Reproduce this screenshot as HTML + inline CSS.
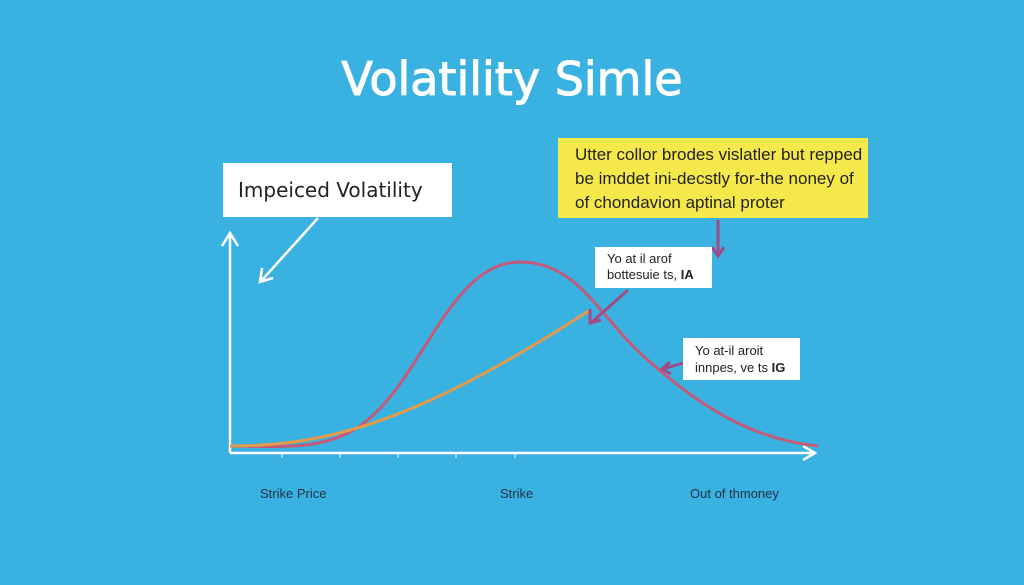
<!DOCTYPE html>
<html><head><style>
body{margin:0;width:1024px;height:585px;background:#39b1e1;overflow:hidden;position:relative;font-family:"Liberation Sans",sans-serif}
.t{position:absolute;left:0;width:1024px;top:52px;text-align:center;color:#fff;font-size:46px;font-family:"DejaVu Sans",sans-serif;-webkit-text-stroke:1px #fff}
.b{position:absolute;background:#fff;color:#222}
</style></head><body>
<div class="t">Volatility Simle</div>
<svg width="1024" height="585" style="position:absolute;left:0;top:0">
<g stroke="#fff" stroke-width="2.5" fill="none">
<line x1="230" y1="453" x2="230" y2="234"/><polyline points="222,246 230,233 238,246"/>
<line x1="230" y1="453" x2="814" y2="453"/><polyline points="803,446 815,453 803,460"/>
<line x1="318" y1="218" x2="262" y2="280"/><polyline points="262,268 260,282 273,278"/>
</g>
<g stroke="#fff" stroke-width="1"><line x1="282" y1="453" x2="282" y2="458"/><line x1="340" y1="453" x2="340" y2="458"/><line x1="398" y1="453" x2="398" y2="458"/><line x1="456" y1="453" x2="456" y2="458"/><line x1="515" y1="453" x2="515" y2="458"/></g>
<path d="M230,446 C290,447 320,448 350,432 C420,395 445,262 520,262 C580,262 600,320 650,362 C710,415 760,440 818,446" stroke="#c45a7a" stroke-width="3" fill="none"/>
<path d="M230,446 C330,446 420,420 590,310" stroke="#e39a4a" stroke-width="3" fill="none"/>
<g stroke="#a04a88" stroke-width="3" fill="none">
<line x1="718" y1="220" x2="718" y2="255"/><polyline points="712,247 718,256 724,247"/>
<line x1="628" y1="290" x2="592" y2="322"/><polyline points="590,309 590,323 601,320"/>
<line x1="683" y1="363" x2="663" y2="369"/><polyline points="670,362 662,369 671,374"/>
</g>
</svg>
<div class="b" style="left:223px;top:163px;width:229px;height:54px;font-size:20px;line-height:54px;padding-left:15px;box-sizing:border-box;font-family:'DejaVu Sans',sans-serif">Impeiced Volatility</div>
<div class="b" style="left:558px;top:138px;width:310px;height:80px;background:#f5e84a;font-size:17px;line-height:24px;padding:5px 0 0 17px;box-sizing:border-box">Utter collor brodes vislatler but repped<br>be imddet ini-decstly for-the noney of<br>of chondavion aptinal proter</div>
<div class="b" style="left:595px;top:247px;width:117px;height:41px;font-size:13px;line-height:16px;padding:4px 0 0 12px;box-sizing:border-box">Yo at il arof<br>bottesuie ts, <b>IA</b></div>
<div class="b" style="left:683px;top:338px;width:117px;height:42px;font-size:13px;line-height:17px;padding:4px 0 0 12px;box-sizing:border-box">Yo at-il aroit<br>innpes, ve ts <b>IG</b></div>
<div style="position:absolute;left:260px;top:486px;color:#234;font-size:13px">Strike Price</div>
<div style="position:absolute;left:500px;top:486px;color:#234;font-size:13px">Strike</div>
<div style="position:absolute;left:690px;top:486px;color:#234;font-size:13px">Out of thmoney</div>
</body></html>
